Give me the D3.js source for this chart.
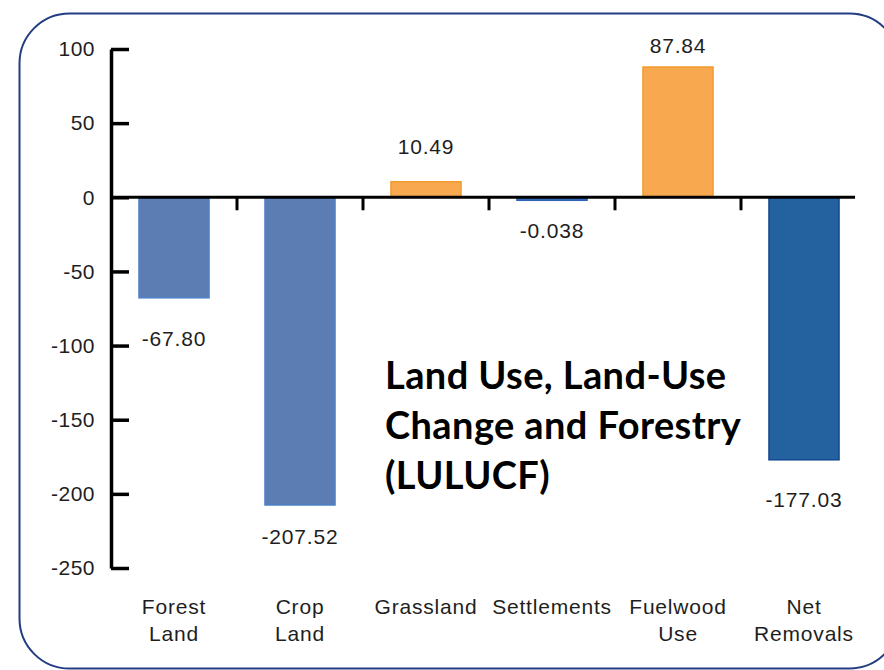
<!DOCTYPE html>
<html>
<head>
<meta charset="utf-8">
<script src="https://cdn.jsdelivr.net/npm/d3@7"></script>
<style>
  html, body { margin: 0; padding: 0; background: #ffffff; overflow: hidden; }
  svg { display: block; }
  text { fill: #1e1e1e; }
</style>
</head>
<body>
<script>
// LULUCF emissions / removals by sector
const categories = ["Forest Land", "Crop Land", "Grassland", "Settlements", "Fuelwood Use", "Net Removals"];
const categoryLines = [["Forest", "Land"], ["Crop", "Land"], ["Grassland"], ["Settlements"], ["Fuelwood", "Use"], ["Net", "Removals"]];
const values = [-67.80, -207.52, 10.49, -0.038, 87.84, -177.03];
const valueLabels = ["-67.80", "-207.52", "10.49", "-0.038", "87.84", "-177.03"];
const yTicks = [100, 50, 0, -50, -100, -150, -200, -250];
const titleLines = ["Land Use, Land-Use", "Change and Forestry", "(LULUCF)"];

const W = 884, H = 670;
const sans = "'Liberation Sans', Arial, sans-serif";
const fills = ["#5b7db3", "#5b7db3", "#f8a94f", "#3f72bd", "#f8a94f", "#23629f"];
const strokes = ["#4d82c6", "#4d82c6", "#f39a2c", "#2f63b3", "#f39a2c", "#12468f"];
const labelGap = [48, 39, 28, 41, 14, 47];

const svg = d3.select("body").append("svg").attr("width", W).attr("height", H);

// rounded frame (runs past the right edge)
svg.append("rect")
  .attr("x", 19.5).attr("y", 13.5)
  .attr("width", 880).attr("height", 655)
  .attr("rx", 50).attr("ry", 50)
  .attr("fill", "none").attr("stroke", "#223d82").attr("stroke-width", 2);

const y = d3.scaleLinear().domain([-250, 100]).range([568, 49]);
const x = d3.scaleBand().domain(categories).range([111, 867])
  .paddingInner(0.444).paddingOuter(0.222);

// bars
svg.append("g").selectAll("rect")
  .data(values)
  .join("rect")
  .attr("x", (d, i) => x(categories[i]))
  .attr("width", x.bandwidth())
  .attr("y", d => y(Math.max(0, d)))
  .attr("height", d => Math.max(3, Math.abs(y(d) - y(0))))
  .attr("fill", (d, i) => fills[i])
  .attr("stroke", (d, i) => strokes[i])
  .attr("stroke-width", 1.5);

// value labels
svg.append("g").selectAll("text")
  .data(values)
  .join("text")
  .attr("x", (d, i) => x(categories[i]) + x.bandwidth() / 2)
  .attr("y", (d, i) => d >= 0 ? y(d) - labelGap[i] : y(d) + labelGap[i])
  .attr("text-anchor", "middle")
  .style("font-family", sans)
  .style("font-size", "21px")
  .style("letter-spacing", "0.8px")
  .text((d, i) => valueLabels[i]);

// y axis with ticks pointing into the plot
const yAxis = d3.axisLeft(y).tickValues(yTicks).tickFormat(d => String(d))
  .tickSizeInner(-18).tickSizeOuter(0).tickPadding(16);
const gy = svg.append("g").attr("transform", "translate(111,0)").call(yAxis);
gy.select(".domain").attr("stroke", "#000").attr("stroke-width", 3.5);
gy.selectAll(".tick line").attr("stroke", "#000").attr("stroke-width", 3.5);
gy.selectAll(".tick text")
  .style("font-family", sans).style("font-size", "21px").style("fill", "#1e1e1e")
  .style("letter-spacing", "0.5px");

// zero line with separator ticks between categories
const y0 = y(0);
svg.append("line")
  .attr("x1", 111).attr("x2", 855).attr("y1", y0).attr("y2", y0)
  .attr("stroke", "#000").attr("stroke-width", 3);
svg.append("g").selectAll("line")
  .data(d3.range(1, categories.length))
  .join("line")
  .attr("x1", i => x.range()[0] + i * x.step())
  .attr("x2", i => x.range()[0] + i * x.step())
  .attr("y1", y0).attr("y2", y0 + 13)
  .attr("stroke", "#000").attr("stroke-width", 3);

// category labels
const cat = svg.append("g").selectAll("text")
  .data(categoryLines)
  .join("text")
  .attr("x", (d, i) => x(categories[i]) + x.bandwidth() / 2)
  .attr("y", 614)
  .attr("text-anchor", "middle")
  .style("font-family", sans)
  .style("font-size", "21px")
  .style("letter-spacing", "0.8px");
cat.selectAll("tspan")
  .data(d => d)
  .join("tspan")
  .attr("x", function () { return d3.select(this.parentNode).attr("x"); })
  .attr("dy", (d, j) => j === 0 ? 0 : 27)
  .text(d => d);

// annotation
svg.append("g").selectAll("text")
  .data(titleLines)
  .join("text")
  .attr("x", 385)
  .attr("y", (d, i) => 389 + i * 50)
  .style("font-family", "Lato, 'Open Sans', sans-serif")
  .style("font-weight", "bold")
  .style("font-size", "38px")
  .style("letter-spacing", "0.4px")
  .style("fill", "#000")
  .text(d => d);
</script>
</body>
</html>
